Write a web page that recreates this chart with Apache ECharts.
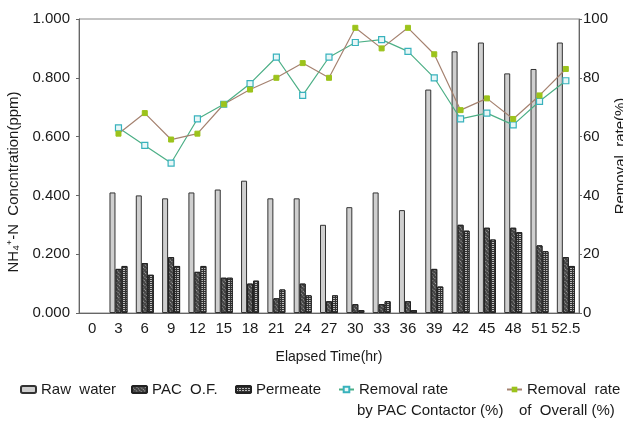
<!DOCTYPE html>
<html>
<head>
<meta charset="utf-8">
<script src="https://cdn.jsdelivr.net/npm/echarts@6/dist/echarts.min.js"></script>
<style>
  html, body { margin: 0; padding: 0; background: #fff; }
  #chart { width: 623px; height: 424px; }
</style>
</head>
<body>
<div id="chart"></div>
<script>
// data
var hours = ['0', '3', '6', '9', '12', '15', '18', '21', '24', '27', '30', '33', '36', '39', '42', '45', '48', '51', '52.5'];
var rawWater = [null, 0.41, 0.40, 0.39, 0.41, 0.42, 0.45, 0.39, 0.39, 0.30, 0.36, 0.41, 0.35, 0.76, 0.89, 0.92, 0.815, 0.83, 0.92];
var pacOF = [null, 0.15, 0.17, 0.19, 0.14, 0.12, 0.10, 0.05, 0.10, 0.04, 0.03, 0.03, 0.04, 0.15, 0.30, 0.29, 0.29, 0.23, 0.19];
var permeate = [null, 0.16, 0.13, 0.16, 0.16, 0.12, 0.11, 0.08, 0.06, 0.06, 0.01, 0.04, 0.01, 0.09, 0.28, 0.25, 0.275, 0.21, 0.16];
var ratePAC = [null, 63, 57, 51, 66, 71, 78, 87, 74, 87, 92, 93, 89, 80, 66, 68, 64, 72, 79];
var rateOverall = [null, 61, 68, 59, 61, 71, 76, 80, 85, 80, 97, 90, 97, 88, 69, 73, 66, 74, 83];

var font = 'Liberation Sans';
var txt = '#1a1a1a';

var myChart = echarts.init(document.getElementById('chart'));

// each legend entry placed on its own, like the original layout
function oneLegend(name, left, label) {
  return {
    data: [name],
    left: left,
    top: 382,
    itemWidth: 15,
    itemHeight: 7,
    padding: 0,
    textStyle: { fontFamily: font, fontSize: 15, color: txt },
    formatter: function () { return label; }
  };
}

var option = {
  animation: false,
  grid: { left: 79, right: 44, top: 19, bottom: 111, outerBoundsMode: 'none', show: true, borderColor: '#888', borderWidth: 1 },
  legend: [
    oneLegend('Raw water', 20, 'Raw  water'),
    oneLegend('PAC O.F.', 131, 'PAC  O.F.'),
    oneLegend('Permeate', 235, 'Permeate'),
    oneLegend('Removal rate by PAC Contactor (%)', 338, 'Removal rate'),
    oneLegend('Removal rate of Overall (%)', 506, 'Removal  rate')
  ],
  graphic: [
    { type: 'text', left: 357, top: 403, style: { text: 'by PAC Contactor (%)', font: '15px "Liberation Sans"', fill: txt } },
    { type: 'text', left: 519, top: 403, style: { text: 'of  Overall (%)', font: '15px "Liberation Sans"', fill: txt } }
  ],
  xAxis: {
    type: 'category',
    data: hours,
    name: 'Elapsed Time(hr)',
    nameLocation: 'middle',
    nameGap: 37,
    nameTextStyle: { fontFamily: font, fontSize: 14, color: txt },
    axisLine: { lineStyle: { color: '#666' } },
    axisTick: { length: 3, lineStyle: { color: '#666' } },
    axisLabel: { fontFamily: font, fontSize: 15, color: txt, margin: 8, interval: 0 }
  },
  yAxis: [
    {
      type: 'value',
      min: 0,
      max: 1,
      interval: 0.2,
      name: 'NH\u2084\u207A-N  Concntration(ppm)',
      nameLocation: 'middle',
      nameGap: 55,
      nameTextStyle: { fontFamily: font, fontSize: 15, color: txt, padding: [0, 32, 0, 0] },
      splitLine: { show: false },
      axisLine: { show: true, lineStyle: { color: '#666' } },
      axisTick: { show: true, length: 3, lineStyle: { color: '#666' } },
      axisLabel: {
        fontFamily: font, fontSize: 15, color: txt, margin: 9,
        formatter: function (v) { return v.toFixed(3); }
      }
    },
    {
      type: 'value',
      min: 0,
      max: 100,
      interval: 20,
      name: 'Removal  rate(%)',
      nameLocation: 'middle',
      nameGap: 34,
      nameRotate: 90,
      nameMoveOverlap: false,
      nameTextStyle: { fontFamily: font, fontSize: 15, color: txt, padding: [0, 0, 0, 20] },
      splitLine: { show: false },
      axisLine: { show: true, lineStyle: { color: '#666' } },
      axisTick: { show: true, length: 3, lineStyle: { color: '#666' } },
      axisLabel: { fontFamily: font, fontSize: 15, color: txt, margin: 4 }
    }
  ],
  series: [
    {
      name: 'Raw water',
      type: 'bar',
      data: rawWater,
      barWidth: 6,
      barGap: '0%',
      itemStyle: { color: '#cfcfcf', borderColor: '#333', borderWidth: 1 }
    },
    {
      name: 'PAC O.F.',
      type: 'bar',
      data: pacOF,
      barWidth: 6,
      barGap: '0%',
      itemStyle: {
        color: '#444', borderColor: '#222', borderWidth: 1,
        decal: { symbol: 'rect', color: '#aaa', backgroundColor: '#444', dashArrayX: [1, 1], dashArrayY: [1, 2], rotation: Math.PI / 4, symbolSize: 1 }
      }
    },
    {
      name: 'Permeate',
      type: 'bar',
      data: permeate,
      barWidth: 6,
      barGap: '0%',
      itemStyle: {
        color: '#333', borderColor: '#222', borderWidth: 1,
        decal: { symbol: 'rect', color: '#bbb', backgroundColor: '#333', dashArrayX: [[2, 1]], dashArrayY: [1, 1], rotation: 0, symbolSize: 1 }
      }
    },
    {
      name: 'Removal rate by PAC Contactor (%)',
      type: 'line',
      yAxisIndex: 1,
      data: ratePAC,
      symbol: 'rect',
      symbolSize: 6,
      lineStyle: { color: '#4caf86', width: 1.2 },
      itemStyle: { color: '#e8f7f7', borderColor: '#38b2bd', borderWidth: 1.2 }
    },
    {
      name: 'Removal rate of Overall (%)',
      type: 'line',
      yAxisIndex: 1,
      data: rateOverall,
      symbol: 'rect',
      symbolSize: 5,
      lineStyle: { color: '#a58270', width: 1.2 },
      itemStyle: { color: '#9cc31c', borderColor: '#9cc31c' }
    }
  ]
};

myChart.setOption(option);
</script>
</body>
</html>
